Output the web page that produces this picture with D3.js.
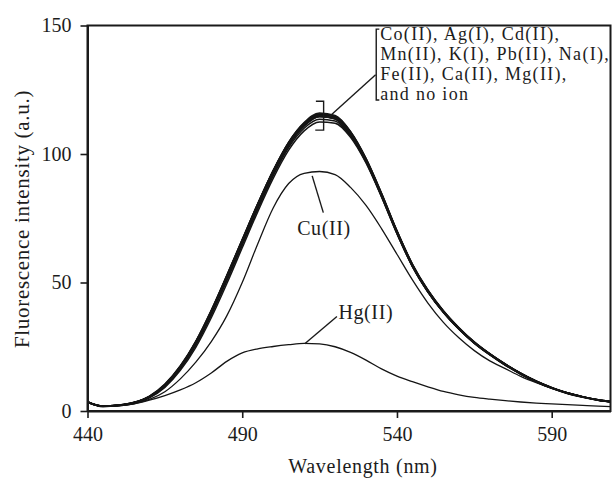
<!DOCTYPE html>
<html>
<head>
<meta charset="utf-8">
<script src="https://cdn.jsdelivr.net/npm/d3@7"></script>
<style>
  body { margin: 0; background: #fff; }
  svg { display: block; }
  text { font-family: 'Liberation Serif', 'DejaVu Serif', serif; fill: #1c1c1c; }
  .axis path, .axis line { stroke: #1a1a1a; }
  .spectrum { fill: none; stroke: #151515; }
</style>
</head>
<body>
<div id="chart"></div>
<script>
// emission wavelengths shared by every spectrum (nm)
var wavelengths = [440, 445, 450, 455, 460, 465, 470, 475, 480, 485, 490, 495,
                   500, 505, 510, 515, 520, 525, 530, 535, 540, 545, 550, 555,
                   560, 565, 570, 575, 580, 585, 590, 595, 600, 605, 610];

var coII = [3.6,1.9,2.3,3.3,5.6,10.2,17.3,27,39,52.5,66.5,80.5,93.5,104.5,112,115.5,114.5,108.5,98,84.5,70,57,47,39,32.3,26.8,22.2,18.2,14.7,11.6,9.1,7.1,5.6,4.4,3.6];
var agI = [3.5,1.8,2.1,3.1,5.3,9.6,16.4,25.6,37.3,50.6,64.5,78.5,91.5,102.5,110,113.5,112.8,107,96.8,83.5,69,56.2,46.3,38.4,31.9,26.4,21.9,17.9,14.4,11.4,8.9,6.9,5.4,4.2,3.4];
var cdII = [3.4,1.8,2.2,3.2,5.5,9.9,16.9,26.3,38.2,51.7,65.8,79.8,92.8,103.8,111.3,115.2,114.3,108.2,97.8,84.2,69.7,56.7,46.6,38.6,32.1,26.6,22.1,18.1,14.6,11.5,9,7,5.5,4.3,3.5];
var mnII = [3.5,1.9,2.3,3.4,5.8,10.5,17.6,27.2,39.3,52.8,66.8,80.6,93.4,104.2,111.6,114.8,113.6,107.4,97,83.6,69.2,56.3,46.4,38.4,31.9,26.4,21.9,17.9,14.4,11.4,8.9,6.9,5.4,4.2,3.4];
var kI = [3.6,1.8,2.2,3.2,5.4,9.8,16.7,26,37.8,51.2,65.2,79.2,92.2,103.3,111,114.6,113.8,107.9,97.6,84.2,69.8,56.8,46.8,38.7,32.2,26.7,22.2,18.2,14.6,11.6,9.1,7.1,5.6,4.4,3.6];
var pbII = [3.5,1.8,2.1,3,5.1,9.2,15.8,24.8,36.3,49.5,63.5,77.5,90.5,101.5,109,112.5,112,106.5,96.5,83.3,69,56.2,46.3,38.3,31.8,26.3,21.8,17.8,14.3,11.3,8.8,6.8,5.3,4.2,3.4];
var naI = [3.5,1.8,2.2,3.3,5.6,10.1,17.2,26.8,38.8,52.3,66.3,80.3,93.3,104.3,111.8,115.6,114.8,108.6,98.2,84.8,70.2,57.2,47.1,39,32.5,26.9,22.3,18.3,14.7,11.7,9.2,7.1,5.6,4.4,3.6];
var feII = [3.4,1.7,2.1,3.1,5.3,9.7,16.6,25.9,37.8,51.3,65.3,79.3,92.3,103.3,110.8,114.5,113.7,107.8,97.5,84,69.6,56.6,46.6,38.6,32.1,26.6,22.1,18.1,14.5,11.5,9,7,5.5,4.3,3.5];
var caII = [3.6,1.9,2.3,3.3,5.7,10.3,17.4,27,39,52.6,66.6,80.6,93.6,104.6,112.2,116,115,108.8,98.3,84.7,70,57,46.9,38.8,32.2,26.7,22.1,18.1,14.6,11.6,9.1,7,5.5,4.3,3.5];
var mgII = [3.5,1.8,2.2,3.2,5.5,10,17.1,26.6,38.6,52.1,66.1,80.1,93.1,104.1,111.6,115.1,114.1,108.1,97.7,84.2,69.7,56.7,46.7,38.6,32.1,26.6,22.1,18.1,14.5,11.5,9,7,5.5,4.3,3.5];
var noIon = [3.5,1.8,2.2,3.2,5.5,10,17,26.5,38.5,52,66,80,93,104,111.5,115,114,108,97.5,84,69.5,56.5,46.5,38.5,32,26.5,22,18,14.5,11.5,9,7,5.5,4.3,3.5];
var cuII = [3.5,1.8,2.0,2.8,4.5,7.5,12.5,19,27,37,50,65,79,88.5,92.5,93.2,92,87,80,71,61,51,42,34.5,28.5,23.5,19.5,16.5,13.5,11,8.8,7,5.5,4.3,3.4];
var hgII = [3.5,1.8,2.0,2.8,4.2,6.0,8.2,11,14.8,19.3,22.6,24.2,25.1,25.8,26.3,26.1,25,22.8,19.8,16.4,13.6,11.4,9.4,7.6,6.3,5.3,4.6,4.0,3.5,3.1,2.8,2.5,2.2,1.9,1.7];

var xTicks = [440, 490, 540, 590];
var yTicks = [0, 50, 100, 150];
var groupLines = ['Co(II), Ag(I), Cd(II),', 'Mn(II), K(I), Pb(II), Na(I),',
                  'Fe(II), Ca(II), Mg(II),', 'and no ion'];

var width = 613, height = 480;

var svg = d3.select('#chart').append('svg')
    .attr('width', width)
    .attr('height', height);

var x = d3.scaleLinear()
    .domain([440, 609])
    .range([87.5, 610.5]);

var y = d3.scaleLinear()
    .domain([0, 150])
    .range([411, 25.5]);

svg.append('defs').append('clipPath')
    .attr('id', 'plot-clip')
  .append('rect')
    .attr('x', x(440))
    .attr('y', y(150))
    .attr('width', x(609) - x(440))
    .attr('height', y(0) - y(150));

var toPoints = function (values) {
  return values.map(function (v, i) { return [wavelengths[i], v]; });
};

var line = d3.line()
    .x(function (d) { return x(d[0]); })
    .y(function (d) { return y(d[1]); })
    .curve(d3.curveMonotoneX);

var bundle = [coII, agI, cdII, mnII, kI, pbII, naI, feII, caII, mgII, noIon];

var plot = svg.append('g').attr('clip-path', 'url(#plot-clip)');

plot.selectAll('.spectrum.bundle')
    .data(bundle)
  .enter().append('path')
    .attr('class', 'spectrum bundle')
    .attr('d', function (d) { return line(toPoints(d)); })
    .style('stroke-width', 1.5);

plot.selectAll('.spectrum.quenched')
    .data([cuII, hgII])
  .enter().append('path')
    .attr('class', 'spectrum quenched')
    .attr('d', function (d) { return line(toPoints(d)); })
    .style('stroke-width', 1.3);

// frame around the plot
svg.append('rect')
    .attr('x', x(440))
    .attr('y', y(150))
    .attr('width', x(609) - x(440))
    .attr('height', y(0) - y(150))
    .style('fill', 'none')
    .style('stroke', '#1a1a1a')
    .style('stroke-width', 2);

var xAxis = d3.axisBottom(x)
    .tickValues(xTicks)
    .tickSizeInner(7)
    .tickSizeOuter(0)
    .tickPadding(9)
    .tickFormat(d3.format('d'));

var yAxis = d3.axisLeft(y)
    .tickValues(yTicks)
    .tickSizeInner(7)
    .tickSizeOuter(0)
    .tickPadding(9)
    .tickFormat(d3.format('d'));

svg.append('g')
    .attr('class', 'axis')
    .attr('transform', 'translate(0,' + y(0) + ')')
    .call(xAxis);

svg.append('g')
    .attr('class', 'axis')
    .attr('transform', 'translate(' + x(440) + ',0)')
    .call(yAxis);

svg.selectAll('.axis path').style('stroke-width', 2);
svg.selectAll('.axis line').style('stroke-width', 1.6);
svg.selectAll('.axis text')
    .style('font-family', "'Liberation Serif', serif")
    .style('font-size', '20px')
    .style('fill', '#1c1c1c');

svg.append('text')
    .attr('x', 363)
    .attr('y', 473)
    .attr('text-anchor', 'middle')
    .style('font-size', '20px')
    .style('letter-spacing', '0.7px')
    .text('Wavelength (nm)');

svg.append('text')
    .attr('transform', 'translate(29,219) rotate(-90)')
    .attr('text-anchor', 'middle')
    .style('font-size', '21px')
    .style('letter-spacing', '0.7px')
    .text('Fluorescence intensity (a.u.)');

// annotations, placed in data units
var note = svg.append('g')
    .style('stroke', '#1a1a1a')
    .style('stroke-width', 1.4)
    .style('fill', 'none');

// small brace over the peaks of the unquenched spectra
note.append('path')
    .attr('d', 'M' + x(513.8) + ',' + y(120.5) +
               'H' + x(516.3) + 'V' + y(109.3) +
               'H' + x(513.6) +
               'M' + x(516.3) + ',' + y(114.4) + 'H' + x(518));

note.append('line')
    .attr('x1', x(518)).attr('y1', y(114.4))
    .attr('x2', x(533.1)).attr('y2', y(130.8));

// bracket grouping the ion list
note.append('path')
    .attr('d', 'M' + x(534.3) + ',' + y(148.6) +
               'H' + x(533.3) + 'V' + y(121) +
               'H' + x(534.3));

note.append('line')
    .attr('x1', x(512.6)).attr('y1', y(91.5))
    .attr('x2', x(516.2)).attr('y2', y(77.2));

note.append('line')
    .attr('x1', x(510.2)).attr('y1', y(26.2))
    .attr('x2', x(520.6)).attr('y2', y(36.8));

svg.selectAll('.group-label')
    .data(groupLines)
  .enter().append('text')
    .attr('class', 'group-label')
    .attr('x', x(534.6))
    .attr('y', function (d, i) { return 40 + i * 20; })
    .style('font-size', '18px')
    .style('letter-spacing', '1.3px')
    .text(function (d) { return d; });

svg.append('text')
    .attr('x', x(516.4))
    .attr('y', y(68.3))
    .attr('text-anchor', 'middle')
    .style('font-size', '20px')
    .style('letter-spacing', '0.6px')
    .text('Cu(II)');

svg.append('text')
    .attr('x', x(521.1))
    .attr('y', y(35.8))
    .style('font-size', '20px')
    .style('letter-spacing', '0.6px')
    .text('Hg(II)');
</script>
</body>
</html>
